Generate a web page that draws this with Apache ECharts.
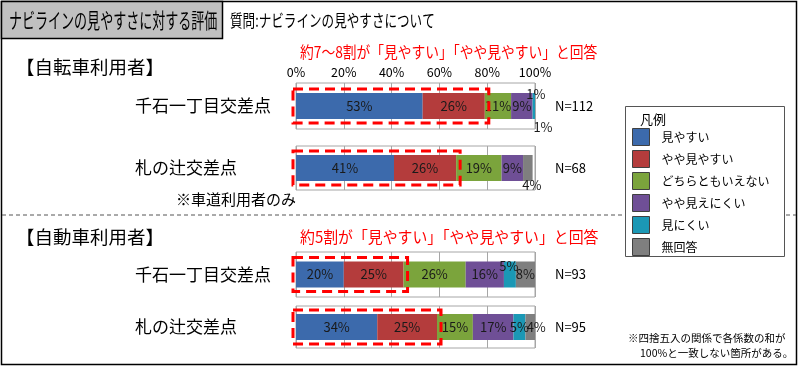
<!DOCTYPE html>
<html><head><meta charset="utf-8">
<script src="https://cdn.jsdelivr.net/npm/echarts@6/dist/echarts.min.js"></script>
<style>html,body{margin:0;padding:0;background:#fff}#c{width:800px;height:367px}</style>
</head><body><div id="c"></div>
<script>
// ---- data ----
const rowCategories = ['千石一丁目交差点', '札の辻交差点', '千石一丁目交差点', '札の辻交差点'];
const seriesNames = ['見やすい', 'やや見やすい', 'どちらともいえない', 'やや見えにくい', '見にくい', '無回答'];
const bikeSengoku = [53, 26, 11, 9, 1, 1];
const bikeFudanotsuji = [41, 26, 19, 9, 0, 4];
const carSengoku = [20, 25, 26, 16, 5, 8];
const carFudanotsuji = [34, 25, 15, 17, 5, 4];
const nLabels = ['N=112', 'N=68', 'N=93', 'N=95'];
const axisTicks = [0, 20, 40, 60, 80, 100];

const rows = [bikeSengoku, bikeFudanotsuji, carSengoku, carFudanotsuji];
const colors = ['#3c6aac', '#b43c3c', '#7ba43c', '#6f4f96', '#1b98b5', '#7f7f7f'];
const FONT = '"Noto Sans CJK JP", "Noto Sans", sans-serif';

const gridBoxes = [[83, 46], [146, 44], [252, 45], [306, 42]];
const labelTweaks = {
  '0-4': {position: 'top', offset: [2, 13]},
  '0-5': {position: 'bottom', offset: [8, -3]},
  '1-5': {position: 'bottom', offset: [4, -7]},
  '2-4': {position: 'top', offset: [-1, 16]},
  '3-5': {position: 'inside', offset: [6, 0]}
};
const itemColorTweaks = {'0-5': '#f08a24'};

const chart = echarts.init(document.getElementById('c'), null, {renderer: 'canvas'});

const grid = [], xAxis = [], yAxis = [], series = [];
gridBoxes.forEach((b, g) => {
  grid.push({left: 296, width: 239, top: b[0], height: b[1], show: true, borderColor: '#a6a6a6', borderWidth: 1, containLabel: false});
  xAxis.push({
    type: 'value', gridIndex: g, min: axisTicks[0], max: axisTicks[axisTicks.length - 1], interval: axisTicks[1] - axisTicks[0],
    position: 'top',
    axisLine: {show: false}, axisTick: {show: false},
    splitLine: {show: true, lineStyle: {color: '#a6a6a6', width: 1}},
    axisLabel: {show: g === 0, formatter: '{value}%', fontSize: 12.5, color: '#000', margin: 4, fontFamily: FONT}
  });
});
gridBoxes.forEach((b, g) => {
  yAxis.push({
    type: 'category', gridIndex: g, data: [rowCategories[g]],
    axisLine: {show: false}, axisTick: {show: false}, splitLine: {show: false},
    axisLabel: {align: 'left', margin: 161, fontSize: 17, color: '#000', fontFamily: FONT}
  });
});
gridBoxes.forEach((b, g) => {
  yAxis.push({
    type: 'category', gridIndex: g, position: 'right', data: [nLabels[g]],
    axisLine: {show: false}, axisTick: {show: false}, splitLine: {show: false},
    axisLabel: {align: 'left', margin: 20, fontSize: 13, color: '#000', fontFamily: FONT}
  });
});
rows.forEach((vals, g) => {
  seriesNames.forEach((name, s) => {
    const key = g + '-' + s;
    const item = {value: vals[s]};
    const tw = labelTweaks[key];
    item.label = Object.assign({show: vals[s] > 0}, tw || {});
    if (itemColorTweaks[key]) item.itemStyle = {color: itemColorTweaks[key]};
    series.push({
      type: 'bar', name: name, stack: 'g' + g, xAxisIndex: g, yAxisIndex: g,
      barWidth: 26, data: [item],
      itemStyle: {color: colors[s]},
      label: {show: true, position: 'inside', formatter: '{c}%', fontSize: 13, color: '#1a1a1a', fontFamily: FONT},
      emphasis: {disabled: true}, animation: false
    });
  });
});

function txt(x, y, text, size, opts) {
  opts = opts || {};
  return {
    type: 'text', x: x, y: y, scaleX: opts.scaleX || 1, z: opts.z || 5,
    style: {text: text, fill: opts.fill || '#000', font: (opts.weight || 'normal') + ' ' + size + 'px ' + FONT,
      textAlign: opts.align || 'left', textVerticalAlign: 'middle'}
  };
}

const staticGraphic = [
  {type: 'rect', z: 0, shape: {x: 1.5, y: 1.5, width: 795, height: 363}, style: {fill: 'none', stroke: '#000', lineWidth: 1.5}},
  {type: 'rect', z: 1, shape: {x: 1.5, y: 1.5, width: 221, height: 37}, style: {fill: '#c0c0c0', stroke: '#000', lineWidth: 1.5}},
  txt(9, 20, 'ナビラインの見やすさに対する評価', 21, {scaleX: 0.62}),
  txt(230, 21, '質問:ナビラインの見やすさについて', 17, {scaleX: 0.74}),
  {type: 'line', z: 1, shape: {x1: 2, y1: 215, x2: 796, y2: 215}, style: {stroke: '#555', lineWidth: 1, lineDash: [4, 3]}},
  txt(16, 67, '【自転車利用者】', 18.5),
  txt(16, 237, '【自動車利用者】', 18.5),
  txt(176, 199, '※車道利用者のみ', 15),
  txt(300, 52, '約7～8割が「見やすい」「やや見やすい」と回答', 16, {fill: '#ff0000', scaleX: 0.86}),
  txt(300, 237, '約5割が「見やすい」「やや見やすい」と回答', 16, {fill: '#ff0000', scaleX: 0.93}),
  {type: 'rect', z: 2, shape: {x: 625.5, y: 106.5, width: 159, height: 150}, style: {fill: '#fff', stroke: '#555', lineWidth: 1}},
  txt(640, 119, '凡例', 13, {z: 6}),
  txt(628, 338, '※四捨五入の関係で各係数の和が', 10.5),
  txt(640, 353, '100%と一致しない箇所がある。', 10.5)
];

chart.setOption({
  animation: false,
  textStyle: {fontFamily: FONT},
  grid: grid, xAxis: xAxis, yAxis: yAxis, series: series,
  legend: {
    data: seriesNames, orient: 'vertical', left: 632, top: 128, itemWidth: 17, itemHeight: 17, itemGap: 4,
    icon: 'rect', selectedMode: false, padding: 0, z: 10,
    itemStyle: {borderColor: '#404040', borderWidth: 1},
    textStyle: {fontSize: 12, color: '#000', fontFamily: FONT, padding: [0, 0, 0, 7]}
  },
  graphic: staticGraphic
});

// red dashed highlight boxes around the first two segments, computed from axes
const boxes = rows.map((vals, g) => {
  const p0 = chart.convertToPixel({gridIndex: g}, [0, 0]);
  const p1 = chart.convertToPixel({gridIndex: g}, [vals[0] + vals[1], 0]);
  const x0 = p0[0] - 3, x1 = p1[0] + 4;
  return {type: 'rect', z: 20, shape: {x: x0, y: p0[1] - 17, width: x1 - x0, height: 34},
    style: {fill: 'none', stroke: '#ff0000', lineWidth: 3, lineDash: [10, 6]}};
});
chart.setOption({graphic: staticGraphic.concat(boxes)});
</script></body></html>
